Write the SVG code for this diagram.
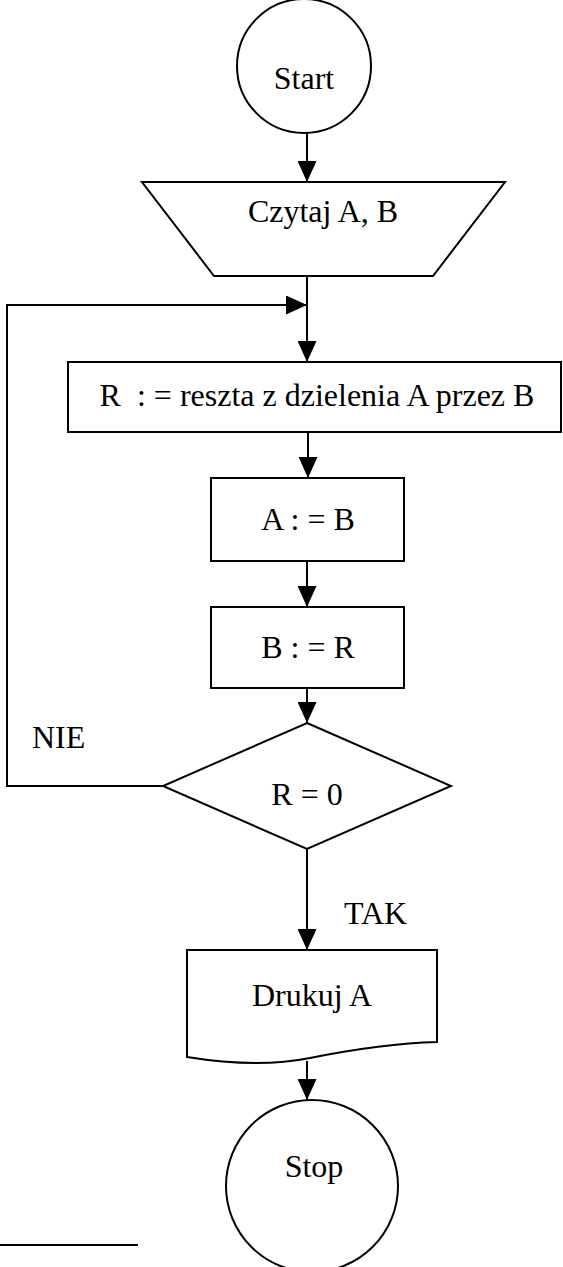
<svg xmlns="http://www.w3.org/2000/svg" width="563" height="1267" viewBox="0 0 563 1267">
<style>
.s{fill:none;stroke:#000;stroke-width:2}
.n{fill:#fff;stroke:#000;stroke-width:2}
.t{font-family:"Liberation Serif","Times New Roman",serif;font-size:32px;fill:#000;text-anchor:middle;white-space:pre}
.l{font-family:"Liberation Serif","Times New Roman",serif;font-size:32px;fill:#000}
</style>
<defs>
<marker id="ah" viewBox="0 0 21 19" refX="21" refY="9.5" markerWidth="21" markerHeight="19" markerUnits="userSpaceOnUse" orient="auto">
<path d="M0,0 L21,9.5 L0,19 z" fill="#000"/>
</marker>
</defs>
<g id="connectors">
<line class="s" x1="307" y1="133" x2="307" y2="182" marker-end="url(#ah)"/>
<line class="s" x1="307" y1="276" x2="307" y2="362" marker-end="url(#ah)"/>
<polyline class="s" points="163,786 7,786 7,305 307,305" marker-end="url(#ah)"/>
<line class="s" x1="308" y1="432" x2="308" y2="478" marker-end="url(#ah)"/>
<line class="s" x1="307" y1="561" x2="307" y2="607" marker-end="url(#ah)"/>
<line class="s" x1="307" y1="688" x2="307" y2="723" marker-end="url(#ah)"/>
<line class="s" x1="307" y1="849" x2="307" y2="950" marker-end="url(#ah)"/>
<line class="s" x1="307" y1="1061" x2="307" y2="1100" marker-end="url(#ah)"/>
<text class="l" x="32" y="748">NIE</text>
<text class="l" x="344" y="924">TAK</text>
</g>
<g id="start">
<circle class="n" cx="304" cy="66" r="67"/>
<text class="t" x="304" y="89">Start</text>
</g>
<g id="read">
<polygon class="n" points="142,182 505,182 433,276 214,276"/>
<text class="t" x="323" y="222">Czytaj A, B</text>
</g>
<g id="rest">
<rect class="n" x="68" y="362" width="493" height="70"/>
<text class="t" x="317" y="406">R  : = reszta z dzielenia A przez B</text>
</g>
<g id="assignA">
<rect class="n" x="211" y="478" width="193" height="83"/>
<text class="t" x="308" y="530">A : = B</text>
</g>
<g id="assignB">
<rect class="n" x="211" y="607" width="193" height="81"/>
<text class="t" x="308" y="658">B : = R</text>
</g>
<g id="decision">
<polygon class="n" points="307,723 451,786 307,849 163,786"/>
<text class="t" x="307" y="805">R = 0</text>
</g>
<g id="print">
<path class="n" d="M187,950 L437,950 L437,1042 C400,1043 350,1050 310,1058 C270,1066 230,1064 187,1057 Z"/>
<text class="t" x="312" y="1006">Drukuj A</text>
</g>
<g id="stop">
<circle class="n" cx="312" cy="1186" r="86"/>
<text class="t" x="314" y="1177">Stop</text>
</g>
<line class="s" x1="0" y1="1245" x2="138" y2="1245"/>
</svg>
